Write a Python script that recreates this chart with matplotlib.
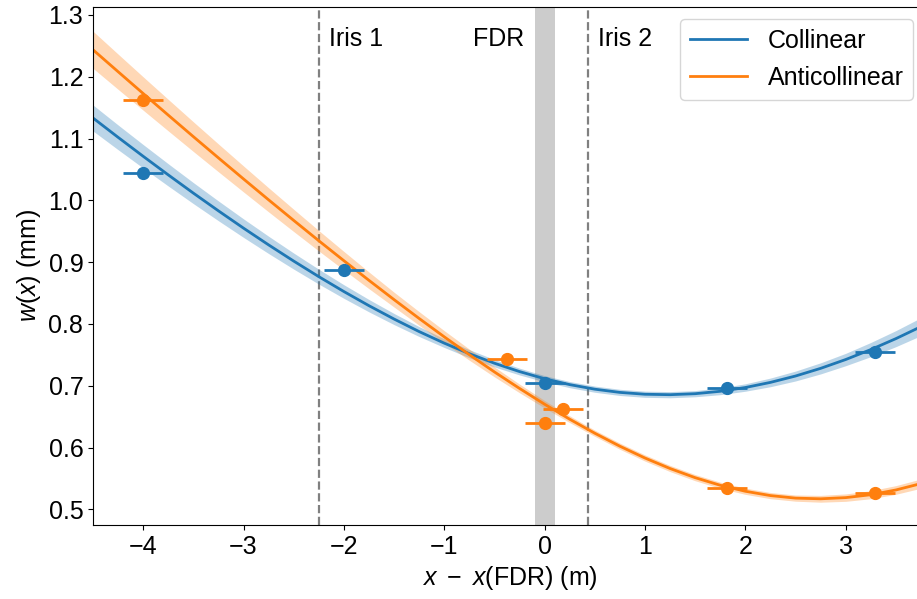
import numpy as np
import matplotlib.pyplot as plt

plt.rcParams["font.family"] = "Liberation Sans"
plt.rcParams["mathtext.fontset"] = "custom"
plt.rcParams["mathtext.rm"] = "Liberation Sans"
plt.rcParams["mathtext.it"] = "Liberation Sans:italic"
plt.rcParams["font.size"] = 18

# measured beam radius (mm) vs position relative to the FDR (m)
col_x = [-4.0, -2.0, 0.0, 1.82, 3.29]
col_w = [1.045, 0.888, 0.704, 0.697, 0.754]
anti_x = [-4.0, -0.375, 0.0, 0.18, 1.82, 3.29]
anti_w = [1.162, 0.743, 0.640, 0.663, 0.534, 0.527]
pos_err = 0.2

# fitted beam profiles with their confidence half-widths
fit_x = [-4.5, -4.25, -4.0, -3.75, -3.5, -3.25, -3.0, -2.75, -2.5, -2.25,
         -2.0, -1.75, -1.5, -1.25, -1.0, -0.75, -0.5, -0.25, 0.0, 0.25,
         0.5, 0.75, 1.0, 1.25, 1.5, 1.75, 2.0, 2.25, 2.5, 2.75,
         3.0, 3.25, 3.5, 3.75, 3.8]
col_fit = [1.1333, 1.1020, 1.0713, 1.0412, 1.0117, 0.9830, 0.9550, 0.9279, 0.9017, 0.8765,
           0.8524, 0.8295, 0.8079, 0.7876, 0.7689, 0.7518, 0.7364, 0.7229, 0.7113, 0.7018,
           0.6944, 0.6892, 0.6862, 0.6855, 0.6871, 0.6910, 0.6971, 0.7054, 0.7157, 0.7281,
           0.7424, 0.7585, 0.7762, 0.7956, 0.7996]
col_band = [0.021, 0.020, 0.019, 0.018, 0.017, 0.016, 0.015, 0.014, 0.013, 0.012,
            0.011, 0.010, 0.009, 0.008, 0.007, 0.0065, 0.006, 0.0055, 0.005, 0.005,
            0.005, 0.005, 0.005, 0.005, 0.005, 0.0055, 0.006, 0.007, 0.008, 0.009,
            0.010, 0.0115, 0.013, 0.0145, 0.015]
anti_fit = [1.2437, 1.2082, 1.1729, 1.1379, 1.1031, 1.0687, 1.0346, 1.0008, 0.9675, 0.9346,
            0.9023, 0.8705, 0.8393, 0.8088, 0.7791, 0.7502, 0.7223, 0.6956, 0.6700, 0.6458,
            0.6231, 0.6021, 0.5830, 0.5660, 0.5512, 0.5389, 0.5292, 0.5222, 0.5181, 0.5170,
            0.5189, 0.5236, 0.5313, 0.5416, 0.5440]
anti_band = [0.030, 0.0285, 0.027, 0.0255, 0.024, 0.0225, 0.021, 0.0195, 0.018, 0.0165,
             0.015, 0.0135, 0.012, 0.011, 0.010, 0.009, 0.008, 0.007, 0.006, 0.0055,
             0.005, 0.005, 0.005, 0.005, 0.005, 0.005, 0.005, 0.005, 0.005, 0.0055,
             0.006, 0.0065, 0.007, 0.0075, 0.008]

iris1 = -2.25
iris2 = 0.43
fdr_half = 0.1

fig = plt.figure(figsize=(9.17, 5.99), dpi=100)
ax = fig.add_axes([93 / 917, 74 / 599, 833 / 917, 518.3 / 599])

ax.axvspan(-fdr_half, fdr_half, color="gray", alpha=0.4, lw=0, zorder=0)
ax.axvline(iris1, color="gray", ls="--", lw=1.6, zorder=1)
ax.axvline(iris2, color="gray", ls="--", lw=1.6, zorder=1)

fx = np.array(fit_x)
for fit, band, c, name in [(col_fit, col_band, "tab:blue", "Collinear"),
                           (anti_fit, anti_band, "tab:orange", "Anticollinear")]:
    fit = np.array(fit)
    band = np.array(band)
    ax.fill_between(fx, fit - band, fit + band, color=c, alpha=0.3, lw=0)
    ax.plot(fx, fit, color=c, lw=2, label=name)

ax.errorbar(col_x, col_w, xerr=pos_err, fmt="o", color="tab:blue", ms=8.5, elinewidth=2)
ax.errorbar(anti_x, anti_w, xerr=pos_err, fmt="o", color="tab:orange", ms=8.5, elinewidth=2)

ax.text(iris1 + 0.1, 1.25, "Iris 1", ha="left", va="baseline")
ax.text(-fdr_half - 0.1, 1.25, "FDR", ha="right", va="baseline")
ax.text(iris2 + 0.1, 1.25, "Iris 2", ha="left", va="baseline")

ax.set_xlim(-4.5, 3.8)
ax.set_ylim(0.4746, 1.3134)
ax.set_xlabel(r"$x\ -\ x$(FDR) (m)")
ax.set_ylabel("$w(x)$ (mm)")
ax.legend(loc="upper right", handlelength=2.3)

fig.savefig("out.png", dpi=100)
